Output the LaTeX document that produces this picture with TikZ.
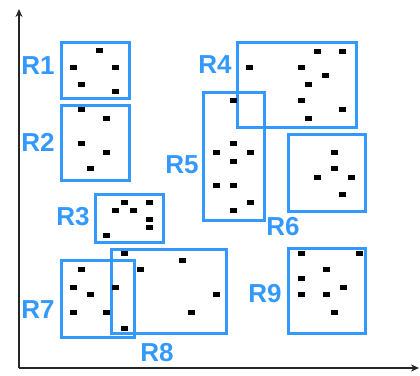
\documentclass[tikz,border=0pt]{standalone}
\usepackage{fontspec}
\setmainfont{Liberation Sans}
\usetikzlibrary{arrows.meta}
\definecolor{regblue}{RGB}{51,153,255}
\tikzset{
  region/.style={draw=regblue, line width=3pt},
  rlabel/.style={text=regblue, font=\fontsize{26}{26}\selectfont\bfseries, inner sep=0pt},
  axis/.style={draw=black!85, line width=1.4pt, -{Stealth[length=8pt,width=7pt]}},
  pt/.style={fill=black, draw=none, minimum width=7pt, minimum height=5pt, inner sep=0pt, rectangle}
}
\begin{document}
\begin{tikzpicture}[x=1pt,y=-1pt]
\useasboundingbox (0,0) rectangle (420,375);
% axes
\coordinate (origin) at (19,368);
\coordinate (ytop) at (19,9);
\coordinate (xend) at (419,368);
\draw[axis] (origin) -- (ytop);
\draw[axis] (origin) -- (xend);
% region rectangles
\draw[region] (61,42) rectangle (129,98);
\draw[region] (61,105) rectangle (129,180);
\draw[region] (95,194) rectangle (163,242);
\draw[region] (237,42) rectangle (356,127);
\draw[region] (203,92) rectangle (264,220);
\draw[region] (288,134) rectangle (365,211);
\draw[region] (61,260) rectangle (134,337);
\draw[region] (111,249) rectangle (226,333);
\draw[region] (288,248) rectangle (365,333);
% region labels
\node[rlabel] (l1) at (38,66) {R1};
\node[rlabel] (l2) at (38,142) {R2};
\node[rlabel] (l3) at (73,217) {R3};
\node[rlabel] (l4) at (215,65) {R4};
\node[rlabel] (l5) at (182,165) {R5};
\node[rlabel] (l6) at (283,227) {R6};
\node[rlabel] (l7) at (38,310) {R7};
\node[rlabel] (l8) at (157,353) {R8};
\node[rlabel] (l9) at (265,294) {R9};
% data points
\foreach \p [count=\i] in {
  {99,50},{73,67},{115,67},{81,84},{115,91},
  {81,109},{106,118},{81,143},{106,152},{90,168},
  {124,202},{149,202},{115,210},{133,210},{149,219},{149,227},{106,235},
  {317,51},{342,51},{249,67},{301,67},{325,75},{308,84},{301,100},{342,109},{308,118},
  {233,100},{233,143},{216,152},{250,152},{233,161},{216,185},{233,185},{250,202},{233,210},
  {334,152},{334,168},{317,177},{351,177},{342,194},
  {124,253},{81,269},{140,269},{182,260},{73,287},{115,287},{90,294},{216,294},
  {73,312},{106,312},{191,312},{124,328},
  {301,253},{359,253},{326,269},{301,278},{343,287},{301,294},{326,294},{334,312}}
  \node[pt] (p\i) at (\p) {};
\end{tikzpicture}
\end{document}
